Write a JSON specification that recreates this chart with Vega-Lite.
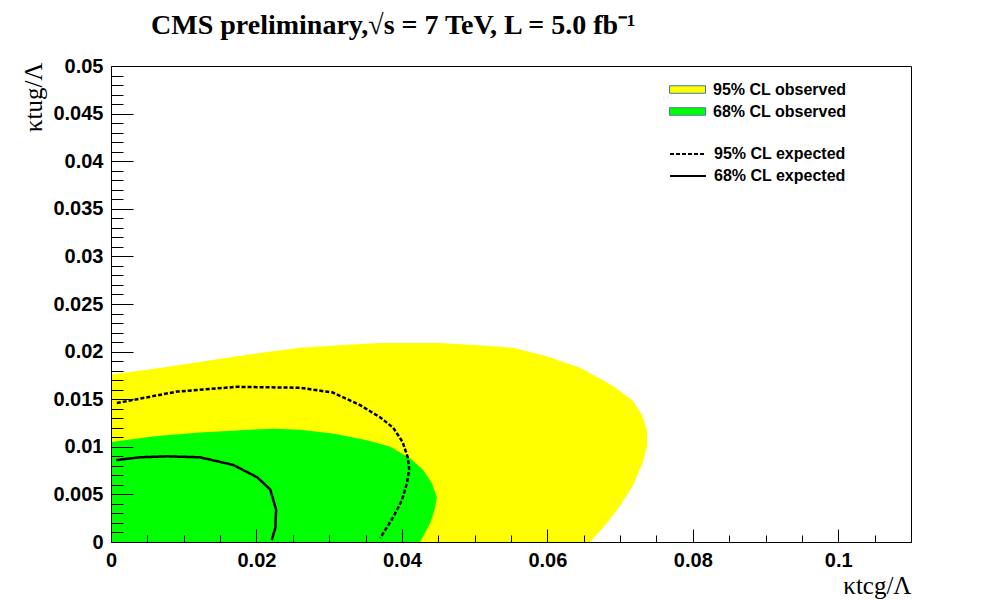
{
  "$schema": "https://vega.github.io/schema/vega-lite/v6.json",
  "width": 800,
  "height": 476,
  "autosize": {"type": "none"},
  "padding": {"left": 111, "top": 66, "right": 81, "bottom": 58},
  "background": "white",
  "title": {
    "text": "CMS preliminary,√s = 7 TeV, L = 5.0 fb⁻¹",
    "anchor": "start",
    "frame": "group",
    "dx": 40,
    "offset": -6,
    "baseline": "alphabetic",
    "font": "Liberation Serif",
    "fontSize": 28,
    "fontWeight": "bold",
    "color": "black"
  },
  "datasets": {
    "yellow": [
      {"i": 0, "x": 0, "y": 0, "region": "95% CL observed"},
      {"i": 1, "x": 0, "y": 0.0176, "region": "95% CL observed"},
      {"i": 2, "x": 0.006, "y": 0.0182, "region": "95% CL observed"},
      {"i": 3, "x": 0.0122, "y": 0.0189, "region": "95% CL observed"},
      {"i": 4, "x": 0.019, "y": 0.0197, "region": "95% CL observed"},
      {"i": 5, "x": 0.026, "y": 0.0204, "region": "95% CL observed"},
      {"i": 6, "x": 0.032, "y": 0.0207, "region": "95% CL observed"},
      {"i": 7, "x": 0.037, "y": 0.0209, "region": "95% CL observed"},
      {"i": 8, "x": 0.0452, "y": 0.0209, "region": "95% CL observed"},
      {"i": 9, "x": 0.05, "y": 0.0207, "region": "95% CL observed"},
      {"i": 10, "x": 0.0553, "y": 0.0204, "region": "95% CL observed"},
      {"i": 11, "x": 0.0599, "y": 0.0195, "region": "95% CL observed"},
      {"i": 12, "x": 0.0645, "y": 0.0183, "region": "95% CL observed"},
      {"i": 13, "x": 0.069, "y": 0.0164, "region": "95% CL observed"},
      {"i": 14, "x": 0.0718, "y": 0.0148, "region": "95% CL observed"},
      {"i": 15, "x": 0.0731, "y": 0.0132, "region": "95% CL observed"},
      {"i": 16, "x": 0.0737, "y": 0.0117, "region": "95% CL observed"},
      {"i": 17, "x": 0.0737, "y": 0.0101, "region": "95% CL observed"},
      {"i": 18, "x": 0.0731, "y": 0.0083, "region": "95% CL observed"},
      {"i": 19, "x": 0.0718, "y": 0.006, "region": "95% CL observed"},
      {"i": 20, "x": 0.07, "y": 0.0038, "region": "95% CL observed"},
      {"i": 21, "x": 0.0682, "y": 0.002, "region": "95% CL observed"},
      {"i": 22, "x": 0.0659, "y": 0, "region": "95% CL observed"}
    ],
    "green": [
      {"i": 0, "x": 0, "y": 0, "region": "68% CL observed"},
      {"i": 1, "x": 0, "y": 0.0105, "region": "68% CL observed"},
      {"i": 2, "x": 0.006, "y": 0.0111, "region": "68% CL observed"},
      {"i": 3, "x": 0.0122, "y": 0.0115, "region": "68% CL observed"},
      {"i": 4, "x": 0.0191, "y": 0.0118, "region": "68% CL observed"},
      {"i": 5, "x": 0.0225, "y": 0.0119, "region": "68% CL observed"},
      {"i": 6, "x": 0.026, "y": 0.0118, "region": "68% CL observed"},
      {"i": 7, "x": 0.0305, "y": 0.0114, "region": "68% CL observed"},
      {"i": 8, "x": 0.0352, "y": 0.0107, "region": "68% CL observed"},
      {"i": 9, "x": 0.0384, "y": 0.01, "region": "68% CL observed"},
      {"i": 10, "x": 0.0411, "y": 0.0088, "region": "68% CL observed"},
      {"i": 11, "x": 0.0429, "y": 0.0076, "region": "68% CL observed"},
      {"i": 12, "x": 0.0441, "y": 0.0062, "region": "68% CL observed"},
      {"i": 13, "x": 0.0448, "y": 0.0047, "region": "68% CL observed"},
      {"i": 14, "x": 0.0445, "y": 0.0034, "region": "68% CL observed"},
      {"i": 15, "x": 0.0439, "y": 0.002, "region": "68% CL observed"},
      {"i": 16, "x": 0.0425, "y": 0, "region": "68% CL observed"}
    ],
    "expected": [
      {"i": 0, "x": 0.0008, "y": 0.0146, "curve": "95% CL expected"},
      {"i": 1, "x": 0.0091, "y": 0.0158, "curve": "95% CL expected"},
      {"i": 2, "x": 0.0173, "y": 0.0163, "curve": "95% CL expected"},
      {"i": 3, "x": 0.026, "y": 0.0162, "curve": "95% CL expected"},
      {"i": 4, "x": 0.0305, "y": 0.0157, "curve": "95% CL expected"},
      {"i": 5, "x": 0.0342, "y": 0.0144, "curve": "95% CL expected"},
      {"i": 6, "x": 0.037, "y": 0.0131, "curve": "95% CL expected"},
      {"i": 7, "x": 0.0388, "y": 0.012, "curve": "95% CL expected"},
      {"i": 8, "x": 0.0401, "y": 0.0105, "curve": "95% CL expected"},
      {"i": 9, "x": 0.0408, "y": 0.0089, "curve": "95% CL expected"},
      {"i": 10, "x": 0.041, "y": 0.0076, "curve": "95% CL expected"},
      {"i": 11, "x": 0.0407, "y": 0.0062, "curve": "95% CL expected"},
      {"i": 12, "x": 0.04, "y": 0.0044, "curve": "95% CL expected"},
      {"i": 13, "x": 0.0388, "y": 0.0026, "curve": "95% CL expected"},
      {"i": 14, "x": 0.037, "y": 0.0004, "curve": "95% CL expected"},
      {"i": 0, "x": 0.0007, "y": 0.0086, "curve": "68% CL expected"},
      {"i": 1, "x": 0.004, "y": 0.0089, "curve": "68% CL expected"},
      {"i": 2, "x": 0.0077, "y": 0.009, "curve": "68% CL expected"},
      {"i": 3, "x": 0.0122, "y": 0.0089, "curve": "68% CL expected"},
      {"i": 4, "x": 0.0168, "y": 0.0081, "curve": "68% CL expected"},
      {"i": 5, "x": 0.0201, "y": 0.0068, "curve": "68% CL expected"},
      {"i": 6, "x": 0.0219, "y": 0.0055, "curve": "68% CL expected"},
      {"i": 7, "x": 0.0227, "y": 0.0034, "curve": "68% CL expected"},
      {"i": 8, "x": 0.0226, "y": 0.0015, "curve": "68% CL expected"},
      {"i": 9, "x": 0.0221, "y": 0.0002, "curve": "68% CL expected"}
    ]
  },
  "layer": [
    {
      "data": {"name": "yellow"},
      "mark": {"type": "line", "strokeWidth": 0},
      "encoding": {
        "x": {
          "field": "x", "type": "quantitative",
          "scale": {"domain": [0, 0.11], "nice": false, "zero": false},
          "axis": {
            "orient": "bottom", "values": [0, 0.02, 0.04, 0.06, 0.08, 0.1], "format": "~g",
            "labelFont": "Liberation Sans", "labelFontWeight": "bold", "labelFontSize": 20,
            "labelColor": "black", "labelPadding": 8, "labelFlush": false, "labelOverlap": false,
            "ticks": false, "domain": true, "domainColor": "black", "grid": false, "zindex": 1,
            "title": "κtcg/Λ", "titleFont": "Liberation Serif", "titleFontSize": 25,
            "titleFontWeight": "normal", "titleColor": "black", "titleAnchor": "end",
            "titleAlign": "right", "titleBaseline": "alphabetic", "titleX": 800, "titleY": 51
          }
        },
        "y": {
          "field": "y", "type": "quantitative",
          "scale": {"domain": [0, 0.05], "nice": false, "zero": false},
          "axis": {
            "orient": "left",
            "values": [0, 0.005, 0.01, 0.015, 0.02, 0.025, 0.03, 0.035, 0.04, 0.045, 0.05], "format": "~g",
            "labelFont": "Liberation Sans", "labelFontWeight": "bold", "labelFontSize": 20,
            "labelColor": "black", "labelPadding": 8, "labelFlush": false, "labelOverlap": false,
            "ticks": false, "domain": true, "domainColor": "black", "grid": false, "zindex": 1,
            "title": "κtug/Λ", "titleFont": "Liberation Serif", "titleFontSize": 25,
            "titleFontWeight": "normal", "titleColor": "black", "titleAngle": 270,
            "titleAlign": "right", "titleBaseline": "middle", "titleX": -78, "titleY": -4
          }
        },
        "order": {"field": "i", "type": "quantitative"},
        "fill": {
          "field": "region", "type": "nominal",
          "scale": {"domain": ["95% CL observed", "68% CL observed"], "range": ["#ffff00", "#00ff00"]},
          "legend": {
            "orient": "none", "legendX": 567, "legendY": 14, "title": null, "padding": 0,
            "symbolType": "M-2,-0.42H2V0.42H-2Z", "symbolSize": 324,
            "symbolStrokeColor": "black", "symbolStrokeWidth": 1, "symbolOpacity": 1,
            "labelFont": "Liberation Sans", "labelFontWeight": "bold", "labelFontSize": 16,
            "labelColor": "black", "labelOffset": 16, "rowPadding": 4
          }
        }
      }
    },
    {
      "data": {"name": "green"},
      "mark": {"type": "line", "strokeWidth": 0},
      "encoding": {
        "x": {
          "field": "x", "type": "quantitative",
          "axis": {
            "orient": "bottom", "values": [0.02, 0.04, 0.06, 0.08, 0.1],
            "labels": false, "domain": false, "ticks": true, "tickSize": -13,
            "tickColor": "black", "tickWidth": 1, "grid": false, "title": null, "zindex": 1
          }
        },
        "y": {
          "field": "y", "type": "quantitative",
          "axis": {
            "orient": "left", "values": [0.005, 0.01, 0.015, 0.02, 0.025, 0.03, 0.035, 0.04, 0.045],
            "labels": false, "domain": false, "ticks": true, "tickSize": -22,
            "tickColor": "black", "tickWidth": 1, "grid": false, "title": null, "zindex": 1
          }
        },
        "order": {"field": "i", "type": "quantitative"},
        "fill": {"field": "region", "type": "nominal"}
      }
    },
    {
      "data": {"name": "expected"},
      "mark": {"type": "line", "color": "black", "strokeWidth": 2.5},
      "encoding": {
        "x": {
          "field": "x", "type": "quantitative",
          "axis": {
            "orient": "bottom",
            "values": [0.005, 0.01, 0.015, 0.025, 0.03, 0.035, 0.045, 0.05, 0.055, 0.065, 0.07, 0.075, 0.085, 0.09, 0.095, 0.105],
            "labels": false, "domain": false, "ticks": true, "tickSize": -7,
            "tickColor": "black", "tickWidth": 1, "grid": false, "title": null, "zindex": 1
          }
        },
        "y": {
          "field": "y", "type": "quantitative",
          "axis": {
            "orient": "left",
            "values": [0.001, 0.002, 0.003, 0.004, 0.006, 0.007, 0.008, 0.009, 0.011, 0.012, 0.013, 0.014, 0.016, 0.017, 0.018, 0.019, 0.021, 0.022, 0.023, 0.024, 0.026, 0.027, 0.028, 0.029, 0.031, 0.032, 0.033, 0.034, 0.036, 0.037, 0.038, 0.039, 0.041, 0.042, 0.043, 0.044, 0.046, 0.047, 0.048, 0.049],
            "labels": false, "domain": false, "ticks": true, "tickSize": -12,
            "tickColor": "black", "tickWidth": 1, "grid": false, "title": null, "zindex": 1
          }
        },
        "order": {"field": "i", "type": "quantitative"},
        "strokeDash": {
          "field": "curve", "type": "nominal",
          "scale": {"domain": ["95% CL expected", "68% CL expected"], "range": [[4, 2], [1, 0]]},
          "legend": {
            "orient": "none", "legendX": 567, "legendY": 78, "title": null, "padding": 0,
            "symbolType": "M-2,0H2", "symbolSize": 324,
            "symbolStrokeColor": "black", "symbolStrokeWidth": 2,
            "labelFont": "Liberation Sans", "labelFontWeight": "bold", "labelFontSize": 16,
            "labelColor": "black", "labelOffset": 16, "rowPadding": 4
          }
        }
      }
    }
  ],
  "resolve": {"axis": {"x": "independent", "y": "independent"}},
  "config": {
    "view": {"stroke": "black", "strokeWidth": 1},
    "axis": {"grid": false}
  }
}
